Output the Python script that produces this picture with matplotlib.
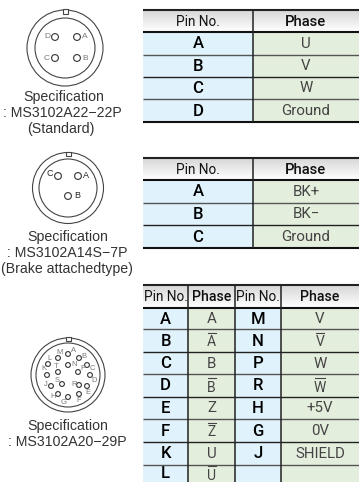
import matplotlib
matplotlib.use("Agg")
import matplotlib.pyplot as plt
from matplotlib.patches import Circle, Rectangle
import numpy as np

plt.rcParams['font.family'] = ['Liberation Sans', 'DejaVu Sans']
HEADF = ['Roboto', 'Liberation Sans', 'DejaVu Sans']

W, H = 359, 482
BLUE, GREEN = '#e0f2fb', '#e4eedd'

# table contents
t1_head = ['Pin No.', 'Phase']
t1_pins = ['A', 'B', 'C', 'D']
t1_phase = ['U', 'V', 'W', 'Ground']
t2_pins = ['A', 'B', 'C']
t2_phase = ['BK+', 'BK\u2212', 'Ground']
t3_head = ['Pin No.', 'Phase', 'Pin No.', 'Phase']
t3_pins1 = ['A', 'B', 'C', 'D', 'E', 'F', 'K', 'L']
t3_phase1 = ['A', 'A', 'B', 'B', 'Z', 'Z', 'U', 'U']
t3_bar1 = [0, 1, 0, 1, 0, 1, 0, 1]
t3_pins2 = ['M', 'N', 'P', 'R', 'H', 'G', 'J', '']
t3_phase2 = ['V', 'V', 'W', 'W', '+5V', '0V', 'SHIELD', '']
t3_bar2 = [0, 1, 0, 1, 0, 0, 0, 0]

# connector pin layouts (label, x, y in pixels; label offset)
c1_pins = [('D', 55, 37, -8, -1), ('A', 77, 37, 8, -1), ('C', 55, 58, -8, 0), ('B', 77, 58, 8, 0)]
c2_pins = [('C', 58, 176, -8, -2), ('A', 78, 176, 8, -1), ('B', 68, 196, 9, 0)]
c3_pins = [('A', 68, 354, 6, -3), ('B', 79, 358, 5, -1), ('C', 87, 365, 5, 3), ('D', 90, 375, 4, 5),
           ('E', 87, 386, 1, 6), ('F', 79, 394, 0, 7), ('G', 68, 397, -4, 5), ('H', 58, 394, -5, 2),
           ('J', 51, 386, -5, -1), ('K', 47, 375, -3, -6), ('L', 48, 364, 2, -6), ('M', 58, 358, 2, -6),
           ('N', 68, 365, 6, 0), ('P', 78, 372, 5, -3), ('R', 79, 385, -5, -1), ('S', 62, 384, -5, -3),
           ('T', 58, 372, -2, -6)]

fig = plt.figure(figsize=(W / 100, H / 100), dpi=100)
ax = fig.add_axes([0, 0, 1, 1])
ax.set_xlim(0, W)
ax.set_ylim(H, 0)
ax.axis('off')


def table(xs, ys, head, cols, bars=None, bottom=True, head_fs=(9.8, 10.6)):
    n = len(xs) - 1
    grad = np.linspace(0.84, 1.0, 32)[:, None]
    ax.imshow(grad, cmap='gray', vmin=0, vmax=1, aspect='auto',
              extent=(xs[0], xs[-1], ys[1], ys[0]), zorder=0)
    for c in range(n):
        col = BLUE if c % 2 == 0 else GREEN
        ax.add_patch(Rectangle((xs[c], ys[1]), xs[c + 1] - xs[c], ys[-1] - ys[1],
                               fc=col, ec='none', zorder=1))
        cx = (xs[c] + xs[c + 1]) / 2
        ax.text(cx, (ys[0] + ys[1]) / 2 + 0.5, head[c], ha='center', va='center',
                fontsize=head_fs[c % 2], color='#111111', zorder=3, family=HEADF,
                fontweight='medium' if c % 2 else 'normal')
        for r, v in enumerate(cols[c]):
            y = (ys[r + 1] + ys[r + 2]) / 2
            bold = c % 2 == 0
            barred = bool(bars and bars[c] and bars[c][r])
            ax.text(cx, y + (2 if barred else 0.5), v, ha='center', va='center',
                    fontsize=12 if bold else (10 if barred else 10.8),
                    color='#000000' if bold else '#444444',
                    fontweight='medium' if bold else 'normal', zorder=3,
                    family=HEADF)
            if barred:
                hw = 4 if v != 'W' else 5
                ax.plot([cx - hw, cx + hw], [y - 7.5, y - 7.5], color='#444444', lw=0.8, zorder=3)
    ax.plot([xs[0], xs[-1]], [ys[0], ys[0]], color='#222222', lw=1.5, zorder=4, solid_capstyle='butt')
    ax.plot([xs[0], xs[-1]], [ys[1], ys[1]], color='#111111', lw=1.5, zorder=4, solid_capstyle='butt')
    for i, y in enumerate(ys[2:-1]):
        ax.plot([xs[0], xs[-1]], [y, y], color='#222222' if i % 2 else '#555555', lw=1.0, zorder=4,
                solid_capstyle='butt')
    if bottom:
        ax.plot([xs[0], xs[-1]], [ys[-1], ys[-1]], color='#111111', lw=1.5, zorder=4, solid_capstyle='butt')
    for x in xs[1:-1]:
        ax.plot([x, x], [ys[0], ys[-1]], color='#222222', lw=1.1, zorder=4, solid_capstyle='butt')


def connector(cx, cy, ro, ri, pins, pr, fs, lc='#777777'):
    ax.add_patch(Circle((cx, cy), ro, fc='white', ec='#444444', lw=0.8, zorder=2))
    ax.add_patch(Circle((cx, cy), ri, fc='white', ec='#444444', lw=0.8, zorder=2))
    ax.add_patch(Rectangle((cx - 2.5, cy - ro - 1), 5, (ro - ri) * 0.55 + 1, fc='white', ec='#444444', lw=0.8, zorder=3))
    for lab, x, y, dx, dy in pins:
        ax.add_patch(Circle((x, y), pr, fc='white', ec='#333333', lw=0.8, zorder=3))
        ax.text(x + dx, y + dy, lab, ha='center', va='center', fontsize=fs, color=lc, zorder=3)


table([143, 253, 359], [10, 32, 55, 77, 99, 122], t1_head, [t1_pins, t1_phase])
table([143, 253, 359], [158, 180, 203, 225, 248], t1_head, [t2_pins, t2_phase])
table([143, 188, 235, 281, 359], [285, 308, 329, 352, 374, 397, 419, 442, 465, 482], t3_head,
      [t3_pins1, t3_phase1, t3_pins2, t3_phase2], bars=[None, t3_bar1, None, t3_bar2], bottom=False,
      head_fs=(9.8, 10.2))

connector(65, 48, 38, 30, c1_pins, 3.4, 6)
connector(68, 188, 35.5, 29, c2_pins, 3.4, 6.5, lc='#222222')
connector(68, 375, 37, 32, c3_pins, 2.4, 5.5)

LBL = dict(ha='center', va='center', fontsize=10.2, color='#333333')
ax.text(64, 97, 'Specification', **LBL)
ax.text(62, 113, ': MS3102A22\u221222P', **LBL)
ax.text(61, 129, '(Standard)', **LBL)
ax.text(68, 237, 'Specification', **LBL)
ax.text(67, 253, ': MS3102A14S\u22127P', **LBL)
ax.text(67, 269, '(Brake attachedtype)', **LBL)
ax.text(68, 426, 'Specification', **LBL)
ax.text(67, 442, ': MS3102A20\u221229P', **LBL)

fig.savefig('out.png', dpi=100)
